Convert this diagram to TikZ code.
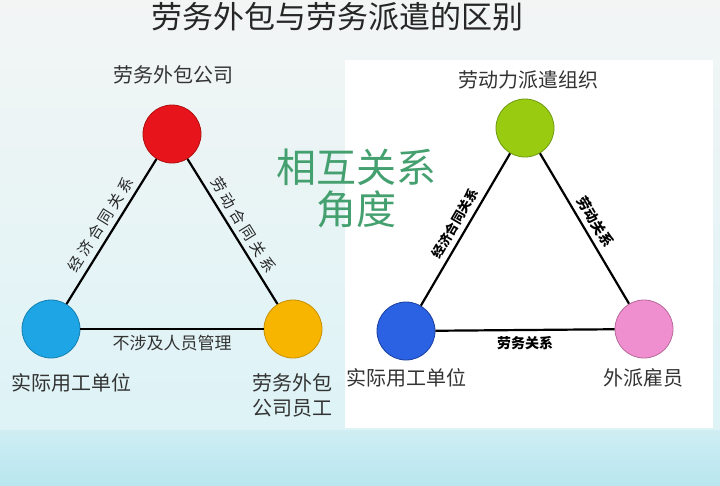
\documentclass[tikz,border=0pt]{standalone}
\usepackage{fontspec}
\newfontfamily\cjk{Noto Sans CJK SC}
\newfontfamily\cjksp{Noto Sans CJK SC}[LetterSpace=25]
\definecolor{bgtop}{HTML}{F3F5F5}
\definecolor{bgmid}{HTML}{DDF3F6}
\definecolor{bgbot}{HTML}{B9E6EF}
\definecolor{redc}{HTML}{E8141C}
\definecolor{redd}{HTML}{B01010}
\definecolor{bluel}{HTML}{1EA5E6}
\definecolor{blueld}{HTML}{1580B0}
\definecolor{orangec}{HTML}{F7B500}
\definecolor{oranged}{HTML}{C89000}
\definecolor{greenc}{HTML}{99CC11}
\definecolor{greend}{HTML}{6F9A10}
\definecolor{bluer}{HTML}{2B62E3}
\definecolor{bluerd}{HTML}{1A3FA0}
\definecolor{pinkc}{HTML}{F08FCF}
\definecolor{pinkd}{HTML}{B86A9A}
\definecolor{txt}{HTML}{333333}
\definecolor{midgreen}{HTML}{45A070}
\begin{document}
\begin{tikzpicture}[x=1pt,y=-1pt,
  ball/.style={circle, minimum size=58pt, inner sep=0pt, line width=0.8pt},
  edge/.style={line width=2.2pt, black},
  namelbl/.style={font=\cjk\fontsize{20}{24}\selectfont, text=txt, align=center},
  elbl/.style={font=\cjksp\fontsize{15}{17}\selectfont, text=black!85, inner sep=2pt},
  elblb/.style={font=\cjk\bfseries\fontsize{13}{15}\selectfont, text=black, inner sep=2pt}]
\useasboundingbox (0,0) rectangle (720,485);
% background
\shade[top color=bgtop, bottom color=bgmid] (0,0) rectangle (720,430);
\shade[top color=bgmid!60!bgbot, bottom color=bgbot] (0,430) rectangle (720,485);
\fill[white] (345,60) rectangle (713,428);
% title
\node[font=\cjk\fontsize{31}{34}\selectfont, text=black!85] (title) at (337,17) {劳务外包与劳务派遣的区别};
% middle text
\node[font=\cjk\fontsize{40}{46}\selectfont, text=midgreen, align=center] (mid) at (356,188) {相互关系\\[-4pt]角度};
% left triangle
\node[ball, fill=redc, draw=redd] (lr) at (172,134) {};
\node[ball, fill=bluel, draw=blueld] (lb) at (51,329) {};
\node[ball, fill=orangec, draw=oranged] (lo) at (293,329) {};
\draw[edge] (lb) -- node[sloped, above=3pt, elbl] {经济合同关系} (lr);
\draw[edge] (lr) -- node[sloped, above=3pt, elbl] {劳动合同关系} (lo);
\draw[edge] (lb) -- node[below=2pt, font=\cjk\fontsize{17}{20}\selectfont, text=txt] {不涉及人员管理} (lo);
\node[namelbl] (tl1) at (173,75) {劳务外包公司};
\node[namelbl] (tl2) at (72,383) {实际用工单位};
\node[namelbl, font=\cjk\fontsize{20}{25}\selectfont] (tl3) at (292,395) {劳务外包\\公司员工};
% right triangle
\node[ball, fill=greenc, draw=greend] (rg) at (525,128) {};
\node[ball, fill=bluer, draw=bluerd] (rb) at (406,331) {};
\node[ball, fill=pinkc, draw=pinkd] (rp) at (644,329) {};
\draw[edge] (rb) -- node[sloped, above=3pt, elblb] {经济合同关系} (rg);
\draw[edge] (rg) -- node[sloped, above=3pt, elblb, font=\cjk\bfseries\fontsize{14}{16}\selectfont] {劳动关系} (rp);
\draw[edge] (rb) -- node[below=3pt, elblb, font=\cjk\bfseries\fontsize{14}{16}\selectfont] {劳务关系} (rp);
\node[namelbl] (tr1) at (528,80) {劳动力派遣组织};
\node[namelbl] (tr2) at (406,378) {实际用工单位};
\node[namelbl] (tr3) at (643,378) {外派雇员};
\end{tikzpicture}
\end{document}
